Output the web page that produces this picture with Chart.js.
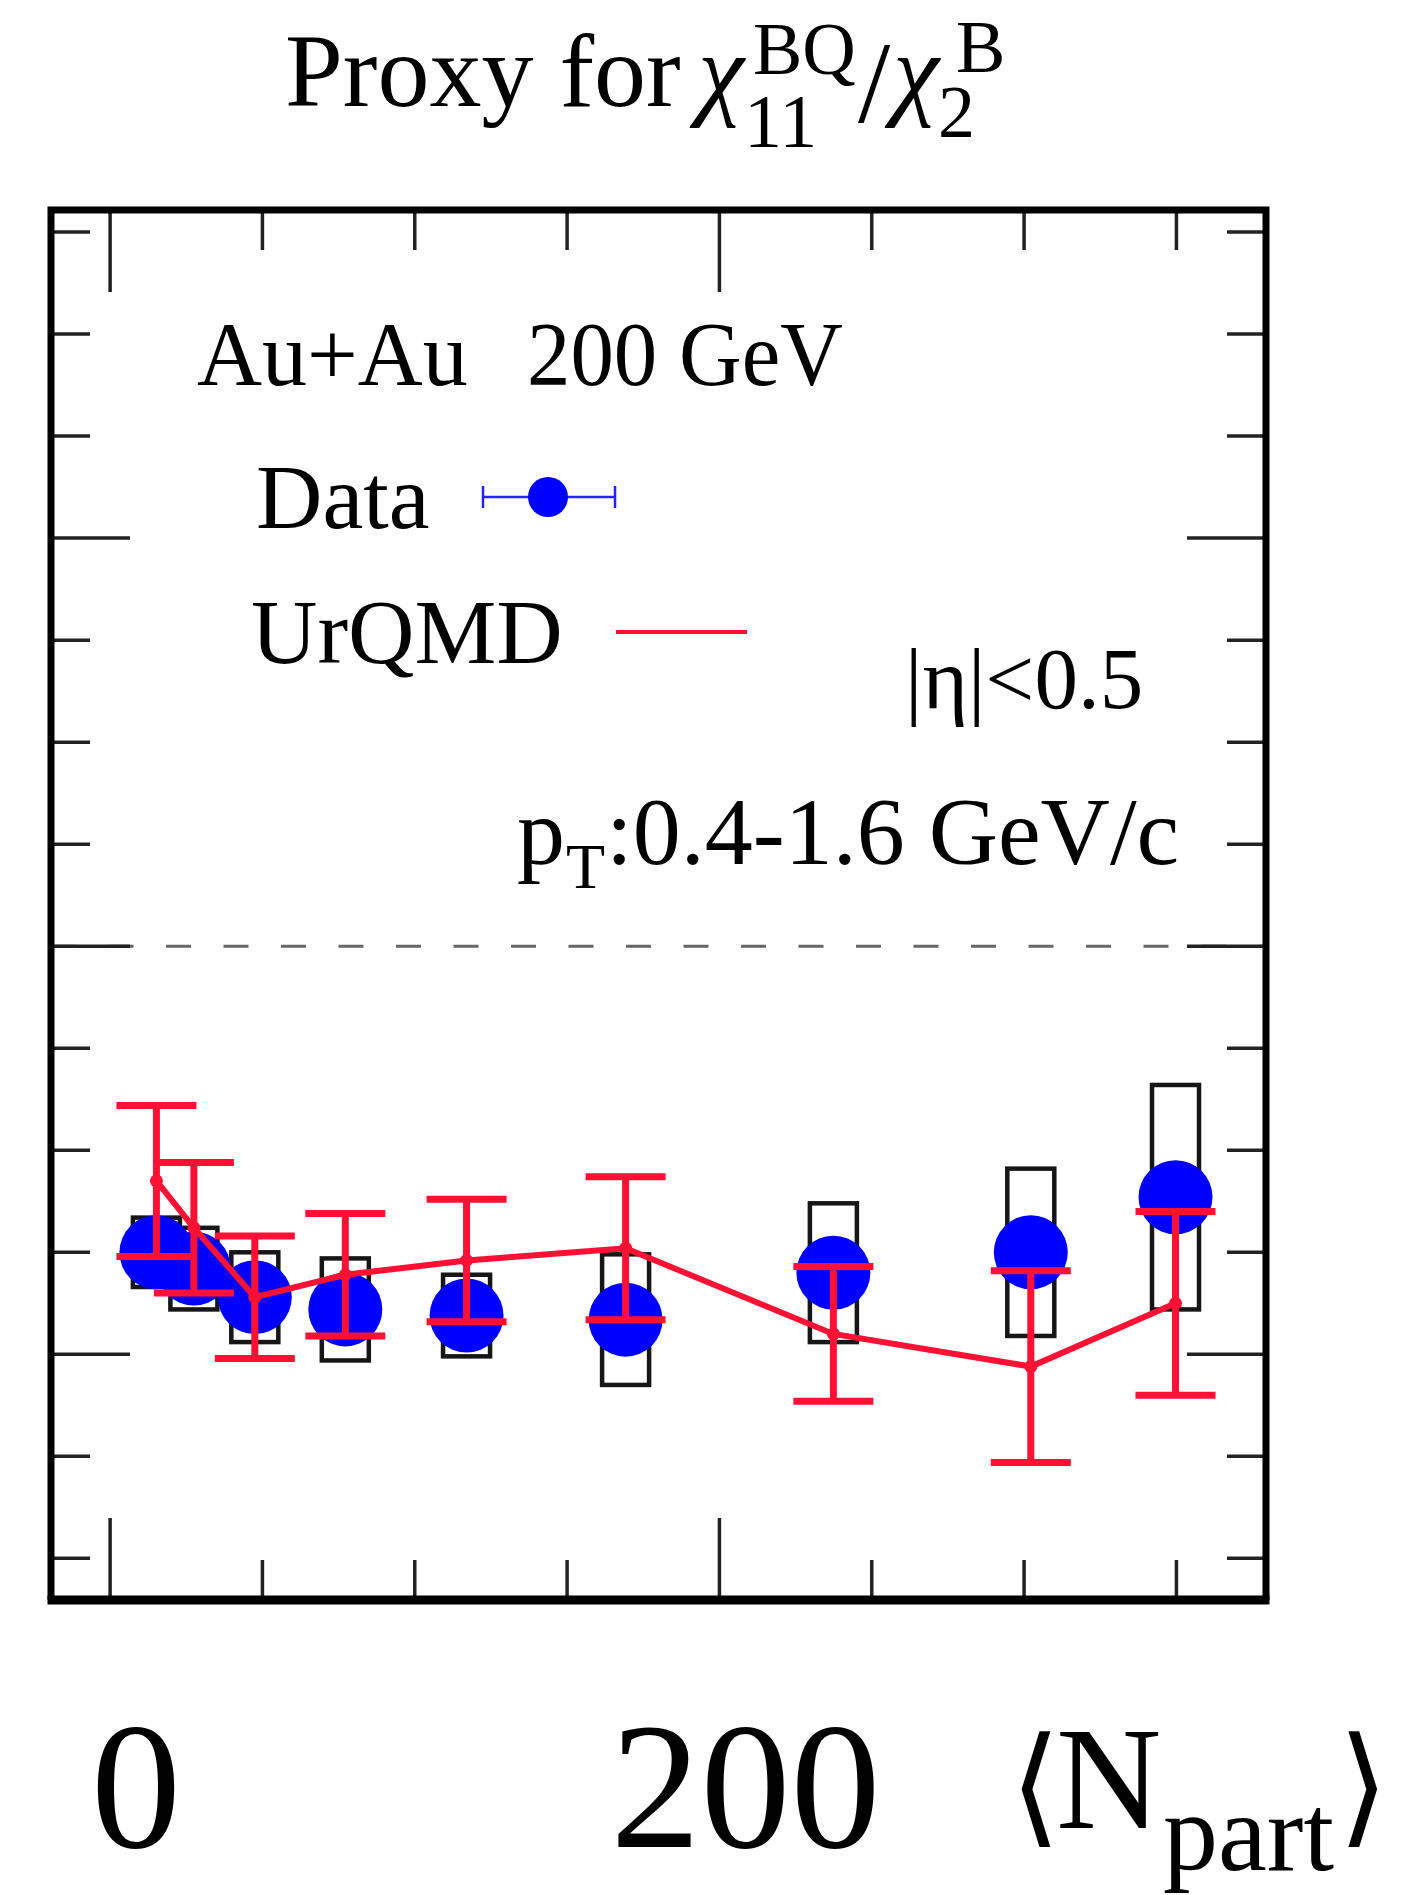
<!DOCTYPE html>
<html>
<head>
<meta charset="utf-8">
<title>Proxy for chi11 BQ / chi2 B</title>
<script src="https://cdn.jsdelivr.net/npm/chart.js@4.4.1/dist/chart.umd.min.js"></script>
<style>
  html, body { margin: 0; padding: 0; background: #fff; }
  canvas { display: block; }
</style>
</head>
<body>
<canvas id="c" width="1424" height="1895"></canvas>
<script>
// Au+Au 200 GeV, centrality bins (70-80% ... 0-5%)
const npart    = [15.2, 27.5, 47.5, 77.2, 117.0, 169.2, 237.4, 302.2, 349.7];
const dataVal  = [0.150, 0.142, 0.128, 0.122, 0.119, 0.117, 0.140, 0.150, 0.177];
const dataSys  = [0.017, 0.020, 0.022, 0.025, 0.020, 0.032, 0.034, 0.041, 0.055];
const urqmdVal = [0.185, 0.162, 0.128, 0.139, 0.146, 0.152, 0.110, 0.094, 0.125];
const urqmdErr = [0.037, 0.032, 0.030, 0.030, 0.030, 0.035, 0.033, 0.047, 0.045];

const xTicks  = [0, 50, 100, 150, 200, 250, 300, 350];
const xMajor  = [0, 200];
const xLabels = ['0', '200'];
const yTicks  = [0, 0.05, 0.1, 0.15, 0.2, 0.25, 0.3, 0.35, 0.4, 0.45, 0.5, 0.55, 0.6, 0.65];
const yMajor  = [0.1, 0.3, 0.5];
const refLevel = 0.3;

const RED = '#ff1035';
const BLUE = '#0000ff';
const SERIF = '"Liberation Serif", "Times New Roman", serif';
const BOX_HALF = 23.5;   // px, systematic box half width
const CAP = 40;          // px, UrQMD error bar cap half width

// draw a text run, optionally squeezed horizontally
function txt(ctx, s, x, y, size, style, sx) {
  ctx.font = (style ? style + ' ' : '') + size + 'px ' + SERIF;
  if (!sx || sx === 1) { ctx.fillText(s, x, y); return; }
  ctx.save();
  ctx.translate(x, y);
  ctx.scale(sx, 1);
  ctx.fillText(s, 0, 0);
  ctx.restore();
}

const overlay = {
  id: 'overlay',
  beforeDatasetsDraw(chart) {
    const { ctx, chartArea: a, scales: { x, y } } = chart;
    ctx.save();
    // reference level
    const yr = y.getPixelForValue(refLevel);
    ctx.strokeStyle = '#666';
    ctx.lineWidth = 3;
    ctx.setLineDash([25, 32.5]);
    ctx.beginPath();
    ctx.moveTo(a.left, yr);
    ctx.lineTo(a.right, yr);
    ctx.stroke();
    ctx.setLineDash([]);

    // systematic boxes
    ctx.strokeStyle = '#161616';
    ctx.lineWidth = 4.5;
    npart.forEach((n, i) => {
      const px = x.getPixelForValue(n);
      const top = y.getPixelForValue(dataVal[i] + dataSys[i]);
      const bot = y.getPixelForValue(dataVal[i] - dataSys[i]);
      ctx.strokeRect(px - BOX_HALF, top, 2 * BOX_HALF, bot - top);
    });
    ctx.restore();
  },
  afterDatasetsDraw(chart) {
    const { ctx, scales: { x, y } } = chart;
    ctx.save();
    ctx.strokeStyle = RED;
    ctx.lineWidth = 7;
    npart.forEach((n, i) => {
      const px = x.getPixelForValue(n);
      const hi = y.getPixelForValue(urqmdVal[i] + urqmdErr[i]);
      const lo = y.getPixelForValue(urqmdVal[i] - urqmdErr[i]);
      ctx.beginPath();
      ctx.moveTo(px, hi); ctx.lineTo(px, lo);
      ctx.moveTo(px - CAP, hi); ctx.lineTo(px + CAP, hi);
      ctx.moveTo(px - CAP, lo); ctx.lineTo(px + CAP, lo);
      ctx.stroke();
    });
    ctx.restore();
  },
  afterDraw(chart) {
    const { ctx, chartArea: a, scales: { x, y } } = chart;
    ctx.save();

    // inward ticks on all four sides
    ctx.strokeStyle = '#222';
    ctx.lineWidth = 3.5;
    ctx.beginPath();
    xTicks.forEach(v => {
      const px = x.getPixelForValue(v);
      const len = xMajor.includes(v) ? 82 : 40;
      ctx.moveTo(px, a.top); ctx.lineTo(px, a.top + len);
      ctx.moveTo(px, a.bottom); ctx.lineTo(px, a.bottom - len);
    });
    yTicks.forEach(v => {
      const py = y.getPixelForValue(v);
      const len = yMajor.some(m => Math.abs(m - v) < 1e-9) ? 79 : 39;
      ctx.moveTo(a.left, py); ctx.lineTo(a.left + len, py);
      ctx.moveTo(a.right, py); ctx.lineTo(a.right - len, py);
    });
    ctx.stroke();

    // frame
    ctx.strokeStyle = '#000';
    ctx.lineWidth = 7;
    ctx.beginPath();
    ctx.moveTo(a.left, a.bottom); ctx.lineTo(a.left, a.top);
    ctx.lineTo(a.right, a.top); ctx.lineTo(a.right, a.bottom);
    ctx.stroke();
    ctx.lineWidth = 9;
    ctx.beginPath();
    ctx.moveTo(a.left - 3.5, a.bottom); ctx.lineTo(a.right + 3.5, a.bottom);
    ctx.stroke();

    ctx.fillStyle = '#000';
    ctx.textBaseline = 'alphabetic';
    ctx.textAlign = 'left';

    // title
    txt(ctx, 'Proxy for', 285, 106, 104);
    txt(ctx, 'χ', 698, 106, 104, 'italic');
    txt(ctx, 'BQ', 753, 74, 74);
    txt(ctx, '11', 744, 147, 76);
    txt(ctx, '/', 858, 122, 116);
    txt(ctx, 'χ', 893, 106, 104, 'italic');
    txt(ctx, 'B', 956, 72, 74);
    txt(ctx, '2', 938, 137, 74);

    // legend
    txt(ctx, 'Au+Au', 197, 385, 90);
    txt(ctx, '200 GeV', 527, 385, 90, '', 0.965);
    txt(ctx, 'Data', 256, 528, 92);
    txt(ctx, 'UrQMD', 251, 663, 92);

    ctx.strokeStyle = '#2424ff';
    ctx.lineWidth = 2.5;
    ctx.beginPath();
    ctx.moveTo(483, 497); ctx.lineTo(615, 497);
    ctx.moveTo(483, 486); ctx.lineTo(483, 508);
    ctx.moveTo(615, 486); ctx.lineTo(615, 508);
    ctx.stroke();
    ctx.fillStyle = BLUE;
    ctx.beginPath();
    ctx.arc(548, 497, 20, 0, Math.PI * 2);
    ctx.fill();

    ctx.strokeStyle = RED;
    ctx.lineWidth = 4;
    ctx.beginPath();
    ctx.moveTo(616, 632); ctx.lineTo(747, 632);
    ctx.stroke();

    // kinematic cuts
    ctx.fillStyle = '#000';
    txt(ctx, '|η|<0.5', 905, 708, 87);
    txt(ctx, 'p', 517, 864, 96);
    txt(ctx, 'T', 566, 888, 64);
    txt(ctx, ':0.4-1.6 GeV/c', 606, 864, 96);

    // x axis labels
    ctx.textAlign = 'center';
    xMajor.forEach((v, i) => {
      txt(ctx, xLabels[i], x.getPixelForValue(v) + 26, 1847, 180);
    });
    ctx.textAlign = 'left';
    ctx.font = '130px "Liberation Serif", "DejaVu Serif", "DejaVu Sans", serif';
    ctx.fillText('⟨', 1010, 1830);
    txt(ctx, 'N', 1056, 1828, 146);
    txt(ctx, 'part', 1163, 1870, 110);
    ctx.font = '130px "Liberation Serif", "DejaVu Serif", "DejaVu Sans", serif';
    ctx.fillText('⟩', 1338, 1830);

    ctx.restore();
  }
};

new Chart(document.getElementById('c'), {
  type: 'line',
  data: {
    datasets: [
      {
        label: 'UrQMD',
        data: npart.map((n, i) => ({ x: n, y: urqmdVal[i] })),
        borderColor: RED,
        backgroundColor: RED,
        borderWidth: 6,
        pointRadius: 6.5,
        pointBackgroundColor: RED,
        pointBorderWidth: 0,
        tension: 0,
        order: 0
      },
      {
        label: 'Data',
        data: npart.map((n, i) => ({ x: n, y: dataVal[i] })),
        showLine: false,
        backgroundColor: BLUE,
        pointBackgroundColor: BLUE,
        pointRadius: 37,
        pointBorderWidth: 0,
        order: 1
      }
    ]
  },
  options: {
    responsive: false,
    animation: false,
    devicePixelRatio: 1,
    events: [],
    layout: { padding: { left: 51, right: 158, top: 210, bottom: 295 } },
    scales: {
      x: { type: 'linear', min: -19.4, max: 379.4, display: false },
      y: { type: 'linear', min: -0.0204, max: 0.6608, display: false }
    },
    plugins: { legend: { display: false }, tooltip: { enabled: false } }
  },
  plugins: [overlay]
});
</script>
</body>
</html>
